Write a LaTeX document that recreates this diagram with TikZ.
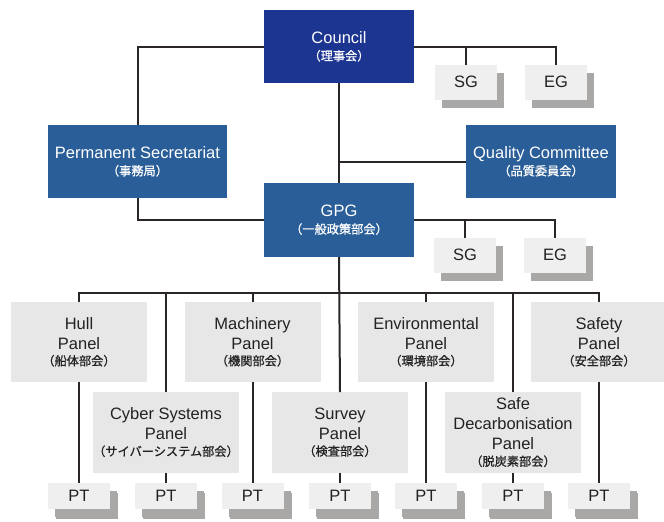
\documentclass[tikz,border=0pt]{standalone}
\usepackage{fontspec}
\setmainfont{Liberation Sans}
\newfontfamily\jp[FakeBold=0.8]{Noto Sans CJK JP}
\usetikzlibrary{shadows}

\definecolor{navy}{HTML}{1C3591}
\definecolor{steel}{HTML}{2A5E98}
\definecolor{panelgray}{HTML}{E7E7E7}
\definecolor{boxgray}{HTML}{EFEFEF}
\definecolor{shadowgray}{HTML}{A9A8A6}
\definecolor{linecol}{HTML}{2B2626}
\definecolor{inkgray}{HTML}{222222}

\newcommand{\jpsub}[1]{{\jp\fontsize{12.2}{14}\selectfont #1}}

\tikzset{
  box/.style={rectangle, inner sep=0pt, outer sep=0pt, align=center,
    font=\fontsize{16.5}{20}\selectfont},
  bluebox/.style={box, fill=steel, text=white, minimum width=150pt, minimum height=73pt},
  topbox/.style={bluebox, fill=navy},
  panel/.style={box, fill=panelgray, text=inkgray, minimum width=136pt, minimum height=80pt},
  smallbox/.style={box, fill=boxgray, text=inkgray, minimum width=62pt,
    drop shadow={shadow xshift=7pt, shadow yshift=-8pt, opacity=1, fill=shadowgray}},
  groupbox/.style={smallbox, minimum height=35pt},
  ptbox/.style={smallbox, minimum height=26pt,
    drop shadow={shadow xshift=8pt, shadow yshift=-10pt, opacity=1, fill=shadowgray}},
  link/.style={draw=linecol, line width=2pt}
}

\begin{document}
\begin{tikzpicture}[x=1pt, y=-1pt]
\useasboundingbox (0,0) rectangle (664,522);
\clip (0,0) rectangle (664,522);

% governing bodies
\node[topbox] (council) at (339,46.5) {Council\\[-3pt]\jpsub{（理事会）}};
\node[bluebox, minimum width=179pt] (permsec) at (137.5,161.5)
  {Permanent Secretariat\\[-3pt]\jpsub{（事務局）}};
\node[bluebox] (quality) at (541,161.5) {Quality Committee\\[-3pt]\jpsub{（品質委員会）}};
\node[bluebox, minimum height=74pt] (gpg) at (339,220) {GPG\\[-3pt]\jpsub{（一般政策部会）}};

% study and expert groups
\node[groupbox] (sg1) at (466,82) {SG};
\node[groupbox] (eg1) at (556,82) {EG};
\node[groupbox] (sg2) at (465,255) {SG};
\node[groupbox] (eg2) at (555,255) {EG};

% panels, upper row
\node[panel] (hull) at (79,342) {Hull\\Panel\\[-4pt]\jpsub{（船体部会）}};
\node[panel] (machinery) at (252.5,342) {Machinery\\Panel\\[-4pt]\jpsub{（機関部会）}};
\node[panel] (env) at (426,342) {Environmental\\Panel\\[-4pt]\jpsub{（環境部会）}};
\node[panel] (safety) at (599,342) {Safety\\Panel\\[-4pt]\jpsub{（安全部会）}};

% panels, lower row
\node[panel, minimum height=81pt] (cyber) at (166,432.5)
  {Cyber Systems\\Panel\\[-4pt]\jpsub{（サイバーシステム部会）}};
\node[panel, minimum height=81pt] (survey) at (340,432.5)
  {Survey\\Panel\\[-4pt]\jpsub{（検査部会）}};
\node[panel, minimum height=81pt] (safedecarb) at (513,432.5)
  {Safe\\Decarbonisation\\Panel\\[-4pt]\jpsub{（脱炭素部会）}};

% project teams
\node[ptbox] (pt1) at (79,496) {PT};
\node[ptbox] (pt2) at (166,496) {PT};
\node[ptbox] (pt3) at (252.5,496) {PT};
\node[ptbox] (pt4) at (340,496) {PT};
\node[ptbox] (pt5) at (426,496) {PT};
\node[ptbox] (pt6) at (513,496) {PT};
\node[ptbox] (pt7) at (599,496) {PT};

% connectors
\coordinate (bus) at (0,293);
\draw[link] (council.west) -| (permsec.north);
\draw[link] (council.east) -| (eg1.north);
\draw[link] (sg1.north) -- (sg1.north |- council.east);
\draw[link] (council.south) -- (gpg.north);
\draw[link] (quality.west) -- (quality.west -| gpg.north);
\draw[link] (permsec.south) |- (gpg.west);
\draw[link] (gpg.east) -| (eg2.north);
\draw[link] (sg2.north) -- (sg2.north |- gpg.east);
\draw[link] (gpg.south) -- (survey.north);
\draw[link] (hull.north) -- (hull.north |- bus) -- (safety.north |- bus) -- (safety.north);
\draw[link] (machinery.north) -- (machinery.north |- bus);
\draw[link] (env.north) -- (env.north |- bus);
\draw[link] (cyber.north) -- (cyber.north |- bus);
\draw[link] (safedecarb.north) -- (safedecarb.north |- bus);
\draw[link] (hull.south) -- (pt1.north);
\draw[link] (cyber.south) -- (pt2.north);
\draw[link] (machinery.south) -- (pt3.north);
\draw[link] (survey.south) -- (pt4.north);
\draw[link] (env.south) -- (pt5.north);
\draw[link] (safedecarb.south) -- (pt6.north);
\draw[link] (safety.south) -- (pt7.north);
\end{tikzpicture}
\end{document}
